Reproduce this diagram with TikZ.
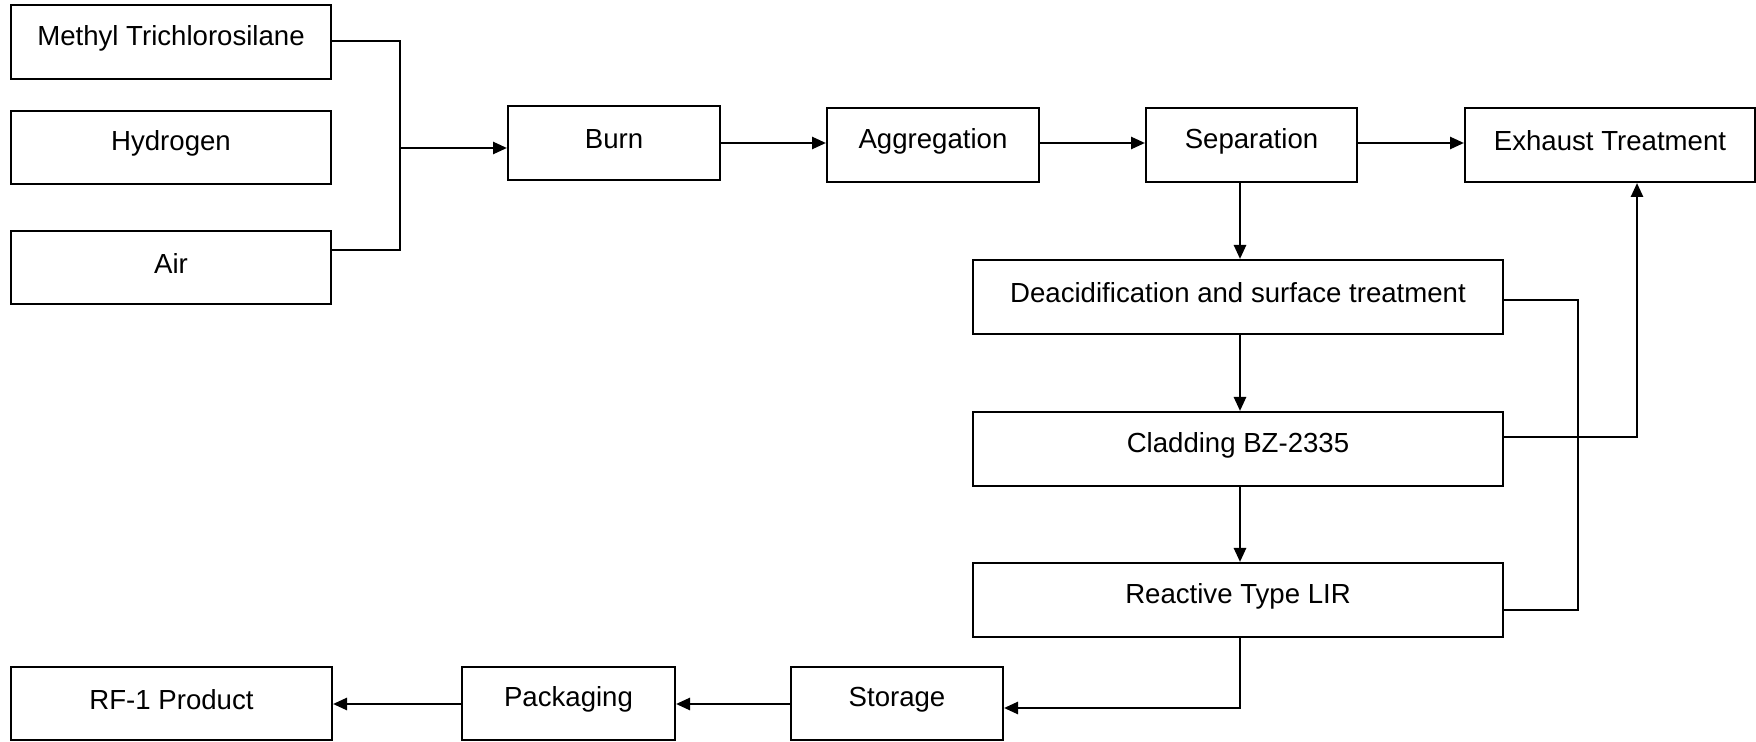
\documentclass[tikz,border=0pt]{standalone}
\usepackage{fontspec}
\setmainfont{Liberation Sans}
\usetikzlibrary{arrows.meta}
\begin{document}
\begin{tikzpicture}[x=0.5pt,y=-0.5pt,
  box/.style={draw,line width=1pt,rectangle,inner sep=0pt},
  lbl/.style={font=\fontsize{13.8pt}{16pt}\selectfont,inner sep=0pt},
  ln/.style={line width=1pt},
  arr/.style={line width=1.3pt,-{Triangle[length=7pt,width=6pt]}}]
\useasboundingbox (0,0) rectangle (1756,742);
% boxes (x1,y1,x2,y2 in px)
\newcommand{\mkbox}[6]{%
  \node[box,minimum width={(#4-#2)*0.5pt},minimum height={(#5-#3)*0.5pt}] (#1) at ({(#2+#4)/2},{(#3+#5)/2}) {};
  \node[lbl] (#1t) at ({(#2+#4)/2},{(#3+#5)/2-4}) {#6};}
\mkbox{meth}{11}{5}{331}{79}{Methyl Trichlorosilane}
\mkbox{hyd}{11}{111}{331}{184}{Hydrogen}
\mkbox{air}{11}{231}{331}{304}{Air}
\mkbox{burn}{508}{106}{720}{180}{Burn}
\mkbox{agg}{827}{108}{1039}{182}{Aggregation}
\mkbox{sep}{1146}{108}{1357}{182}{Separation}
\mkbox{exh}{1465}{108}{1755}{182}{Exhaust Treatment}
\mkbox{deac}{973}{260}{1503}{334}{Deacidification and surface treatment}
\mkbox{clad}{973}{412}{1503}{486}{Cladding BZ-2335}
\mkbox{reac}{973}{563}{1503}{637}{Reactive Type LIR}
\mkbox{rf}{11}{667}{332}{740}{RF-1 Product}
\mkbox{pack}{462}{667}{675}{740}{Packaging}
\mkbox{stor}{791}{667}{1003}{740}{Storage}
% coordinates
\coordinate (j1) at (400,41);
\coordinate (j2) at (400,250);
\coordinate (j3) at (400,148);
\coordinate (fb1) at (1578,300);
\coordinate (fb2) at (1578,610);
\coordinate (fc) at (1637,437);
\coordinate (sd) at (1240,708);
% connectors
\draw[ln] (meth.east |- j1) -- (j1) -- (j2) -- (air.east |- j2);
\draw[arr] (j3) -- (burn.west |- j3);
\draw[arr] (burn.east |- 0,143) -- (agg.west |- 0,143);
\draw[arr] (agg.east |- 0,143) -- (sep.west |- 0,143);
\draw[arr] (sep.east |- 0,143) -- (exh.west |- 0,143);
\draw[arr] (sep.south -| sd) -- (deac.north -| sd);
\draw[arr] (deac.south -| sd) -- (clad.north -| sd);
\draw[arr] (clad.south -| sd) -- (reac.north -| sd);
\draw[ln] (deac.east |- fb1) -- (fb1) -- (fb2) -- (reac.east |- fb2);
\draw[arr] (clad.east |- fc) -- (fc) -- (exh.south -| fc);
\draw[arr] (reac.south -| sd) -- (sd) -- (stor.east |- sd);
\draw[arr] (stor.west |- 0,704) -- (pack.east |- 0,704);
\draw[arr] (pack.west |- 0,704) -- (rf.east |- 0,704);
\end{tikzpicture}
\end{document}
